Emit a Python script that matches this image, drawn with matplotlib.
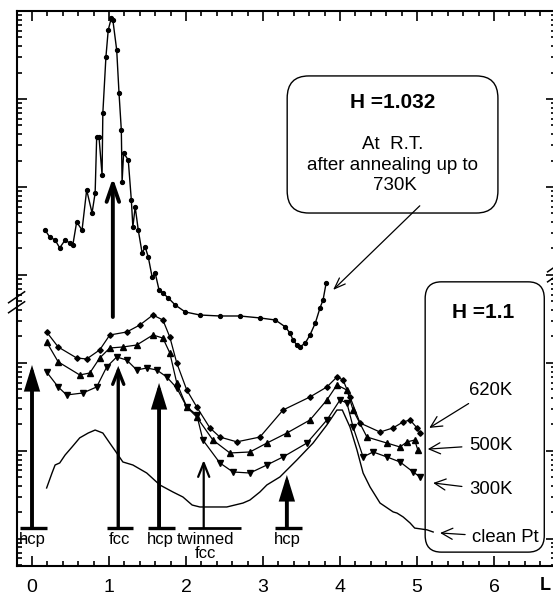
import numpy as np
import matplotlib
matplotlib.use('Agg')
import matplotlib.pyplot as plt
from matplotlib.patches import FancyBboxPatch
from matplotlib.lines import Line2D
from matplotlib.ticker import MultipleLocator, LogLocator, NullFormatter
from matplotlib.transforms import IdentityTransform

plt.rcParams['font.family'] = ['Liberation Sans', 'DejaVu Sans']

#%% Dados (L em r.l.u., intensidade em unidades arbitrárias, escala log)

# H = 1.032, R.T. depois de recozer até 730K (curva de cima, eixo quebrado)
L_top = [0.17, 0.23, 0.30, 0.36, 0.43, 0.49, 0.53, 0.58, 0.65, 0.71,
         0.78, 0.82, 0.84, 0.87, 0.91, 0.92, 0.96, 0.99, 1.03, 1.05,
         1.10, 1.13, 1.16, 1.17, 1.19, 1.25, 1.29, 1.31, 1.34, 1.38,
         1.43, 1.47, 1.51, 1.56, 1.60, 1.65, 1.70, 1.77, 1.86, 1.99,
         2.18, 2.44, 2.70, 2.96, 3.16, 3.29, 3.35, 3.39, 3.44, 3.48,
         3.55, 3.61, 3.68, 3.74, 3.78, 3.82]
I_top = [3240, 2700, 2500, 2030, 2500, 2310, 2190, 4000, 3240, 9250,
         5070, 8550, 37000, 37000, 13700, 69300, 300000, 608000, 832000, 790000,
         360000, 117000, 44400, 11400, 24300, 20300, 7110, 3510, 5930, 3240,
         1780, 2080, 1600, 949, 1050, 676, 624, 548, 456, 380,
         351, 342, 342, 325, 308, 257, 219, 183, 160, 152,
         169, 208, 285, 422, 520, 811]

# H = 1.1
L_620 = [0.19, 0.34, 0.58, 0.71, 0.88, 1.01, 1.23, 1.40, 1.57, 1.70,
         1.79, 1.88, 2.01, 2.14, 2.31, 2.44, 2.66, 2.96, 3.26, 3.61,
         3.83, 3.96, 4.04, 4.13, 4.26, 4.52, 4.69, 4.82, 4.91, 5.00, 5.04]
I_620 = [225, 152, 114, 111, 141, 208, 225, 270, 351, 308,
         197, 100, 49.3, 31.6, 18.3, 14.4, 12.7, 14.4, 29.2, 41.1,
         53.4, 69.3, 64.1, 41.1, 20.8, 16.4, 18.3, 21.4, 22.5, 18.3, 16.0]

L_500 = [0.19, 0.34, 0.62, 0.75, 0.88, 1.01, 1.18, 1.36, 1.57, 1.70,
         1.79, 1.88, 2.01, 2.14, 2.35, 2.57, 2.83, 3.05, 3.31, 3.61,
         3.83, 3.96, 4.09, 4.17, 4.35, 4.61, 4.78, 4.87, 4.97, 5.01]
I_500 = [173, 103, 73.1, 76.9, 114, 148, 152, 160, 208, 192,
         130, 59.3, 31.6, 24.3, 13.3, 9.49, 9.74, 12.3, 16.0, 22.5,
         38.0, 56.2, 49.3, 29.2, 14.4, 12.3, 11.1, 12.7, 13.3, 10.3]

L_300 = [0.19, 0.34, 0.45, 0.66, 0.84, 0.97, 1.10, 1.23, 1.36, 1.49,
         1.62, 1.75, 1.88, 2.01, 2.14, 2.22, 2.44, 2.61, 2.83, 3.05,
         3.26, 3.57, 3.83, 4.00, 4.09, 4.17, 4.30, 4.43, 4.61, 4.78,
         4.95, 5.04]
I_300 = [79.0, 53.4, 43.3, 45.6, 53.4, 90.1, 117, 108, 83.3, 87.7,
         83.3, 69.3, 52.0, 31.6, 25.7, 13.3, 7.31, 5.77, 5.62, 6.93,
         8.55, 12.3, 22.5, 38.0, 35.1, 18.7, 8.55, 9.74, 8.55, 7.50,
         5.77, 5.07]

L_clean = [0.19, 0.26, 0.30, 0.36, 0.43, 0.52, 0.62, 0.73, 0.82, 0.92,
           1.01, 1.10, 1.18, 1.31, 1.49, 1.66, 1.83, 1.96, 2.08, 2.18,
           2.35, 2.53, 2.74, 2.83, 2.96, 3.05, 3.22, 3.44, 3.65, 3.83,
           3.96, 4.03, 4.13, 4.22, 4.30, 4.39, 4.52, 4.69, 4.74, 4.82,
           4.91, 4.97, 5.13, 5.21]
I_clean = [3.80, 5.62, 6.93, 7.31, 9.0, 11.1, 14.1, 16.0, 17.3, 16.0,
           12.3, 9.49, 7.50, 6.93, 5.62, 4.11, 3.42, 3.0, 2.43, 2.31,
           2.31, 2.31, 2.56, 2.77, 3.42, 4.11, 5.07, 7.90, 12.3, 19.8,
           29.2, 29.2, 18.7, 10.3, 5.62, 3.90, 2.56, 2.03, 1.97, 1.78,
           1.52, 1.33, 1.27, 1.20]

# setas das posições de pico
pico_L = [0.0, 1.12, 1.65, 2.23, 3.31]
pico_topo = [94.9, 92.5, 59.3, 7.9, 5.34]
pico_nome = ['hcp', 'fcc', 'hcp', 'twinned\nfcc', 'hcp']
pico_cheio = [True, False, True, False, True]
barra_esq = [-0.16, 0.97, 1.51, 2.02, 3.16]
barra_dir = [0.19, 1.31, 1.86, 2.71, 3.51]
nome_L = [0.0, 1.14, 1.66, 2.25, 3.32]
nivel_barra = 1.33

# seta fcc da curva H=1.032
fcc_top_L = 1.05
fcc_top_base, fcc_top_ponta = 333, 12700

# pontas das setas dos rótulos (fim de cada curva)
rotulos = ['620K', '500K', '300K', 'clean Pt']
rot_L = [5.16, 5.14, 5.21, 5.30]
rot_I = [18.3, 10.5, 4.33, 1.17]
rot_y = [0.317, 0.218, 0.137, 0.052]   # posição do texto (fração do eixo)

#%% Figura
fig = plt.figure(figsize=(5.53, 6.0), dpi=100)
ax = fig.add_axes([16.6 / 553, 34 / 600, 539 / 553, 555 / 600])
ax.set_yscale('log')
ax.set_xlim(-0.2, 6.8)
ax.set_ylim(0.493, 1.0e6)

ax.plot(L_top, I_top, '-o', color='k', lw=1.0, ms=2.8)
ax.plot(L_620, I_620, '-D', color='k', lw=0.9, ms=2.8)
ax.plot(L_500, I_500, '-^', color='k', lw=0.9, ms=3.8)
ax.plot(L_300, I_300, '-v', color='k', lw=0.9, ms=3.8)
ax.plot(L_clean, I_clean, '-', color='k', lw=1.0)

# setas verticais + barras + nomes
for x, topo, nome, cheio, e, d, xn in zip(pico_L, pico_topo, pico_nome, pico_cheio,
                                          barra_esq, barra_dir, nome_L):
    gemeo = nome.startswith('twinned')
    if cheio:
        estilo = '-|>,head_length=1.3,head_width=0.4'
        lw = 2.8
    else:
        estilo = '->,head_length=1.0,head_width=0.4'
        lw = 1.6 if gemeo else 2.4
    ax.annotate('', xy=(x, topo), xytext=(x, nivel_barra),
                arrowprops=dict(arrowstyle=estilo, lw=lw, color='k',
                                shrinkA=0, shrinkB=0, joinstyle='miter'))
    ax.plot([e, d], [nivel_barra, nivel_barra], color='k',
            lw=2.0 if gemeo else 2.4, solid_capstyle='butt')
    ax.annotate(nome, xy=(xn, nivel_barra), xytext=(0, -2.5),
                textcoords='offset points', ha='center', va='top',
                fontsize=12, linespacing=0.95)

ax.annotate('', xy=(fcc_top_L, fcc_top_ponta), xytext=(fcc_top_L, fcc_top_base),
            arrowprops=dict(arrowstyle='->,head_length=1.3,head_width=0.45',
                            lw=2.8, color='k', shrinkA=0, shrinkB=0))

# caixa H=1.032
ax.add_patch(FancyBboxPatch((0.502, 0.636), 0.391, 0.247, transform=ax.transAxes,
                            boxstyle='round,pad=0,rounding_size=0.04',
                            fc='white', ec='k', lw=1.0, zorder=3))
ax.text(0.697, 0.836, 'H =1.032', transform=ax.transAxes, ha='center',
        va='center', fontsize=15, fontweight='bold', zorder=4)
ax.text(0.697, 0.759, 'At  R.T.', transform=ax.transAxes, ha='center',
        va='center', fontsize=13.5, zorder=4)
ax.text(0.697, 0.721, 'after annealing up to', transform=ax.transAxes,
        ha='center', va='center', fontsize=13.5, zorder=4)
ax.text(0.702, 0.685, '730K', transform=ax.transAxes, ha='center',
        va='center', fontsize=13.5, zorder=4)
ax.annotate('', xy=(3.91, 676), xytext=(0.748, 0.649), textcoords='axes fraction',
            arrowprops=dict(arrowstyle='->,head_length=0.8,head_width=0.3',
                            lw=0.9, color='k', shrinkA=0, shrinkB=0))

# caixa H=1.1
ax.add_patch(FancyBboxPatch((0.758, 0.025), 0.221, 0.487, transform=ax.transAxes,
                            boxstyle='round,pad=0,rounding_size=0.03',
                            fc='none', ec='k', lw=1.0, zorder=3))
ax.text(0.865, 0.456, 'H =1.1', transform=ax.transAxes, ha='center',
        va='center', fontsize=15, fontweight='bold', zorder=4)
for nome, x, y, ty in zip(rotulos, rot_L, rot_I, rot_y):
    tx = 0.845 if nome == 'clean Pt' else 0.839
    ax.annotate(nome, xy=(x, y), xytext=(tx, ty), textcoords='axes fraction',
                ha='left', va='center', fontsize=13.3, zorder=4,
                arrowprops=dict(arrowstyle='->,head_length=0.6,head_width=0.3',
                                lw=0.9, color='k', shrinkA=3, shrinkB=0))

# eixos
for lado in ['top', 'bottom', 'left', 'right']:
    ax.spines[lado].set_linewidth(1.5)
ax.xaxis.set_major_locator(MultipleLocator(1))
ax.xaxis.set_minor_locator(MultipleLocator(0.2))
ax.yaxis.set_major_locator(LogLocator(base=10, numticks=20))
ax.yaxis.set_minor_locator(LogLocator(base=10, subs=np.arange(2, 10), numticks=100))
ax.yaxis.set_minor_formatter(NullFormatter())
ax.tick_params(axis='both', which='both', direction='in', top=True, bottom=True,
               left=True, right=True, labelleft=False, width=1.2)
ax.tick_params(axis='both', which='major', length=7)
ax.tick_params(axis='both', which='minor', length=3.5)
ax.tick_params(axis='x', labelsize=14, pad=9)

fig.text(540 / 553, 1 - 586 / 600, 'L', ha='left', va='center',
         fontsize=13, fontweight='bold')

# marcas de quebra do eixo (//)
quebra_esq, quebra_dir = 490, 1100
for xe, ye in [(-0.2, quebra_esq), (6.8, quebra_dir)]:
    px, py = ax.transData.transform((xe, ye))
    for dy in (-5, 5):
        fig.add_artist(Line2D([px - 8, px + 8], [py + dy - 5.5, py + dy + 5.5],
                              transform=IdentityTransform(), color='k', lw=1.1))

fig.savefig('out.png', dpi=100)
